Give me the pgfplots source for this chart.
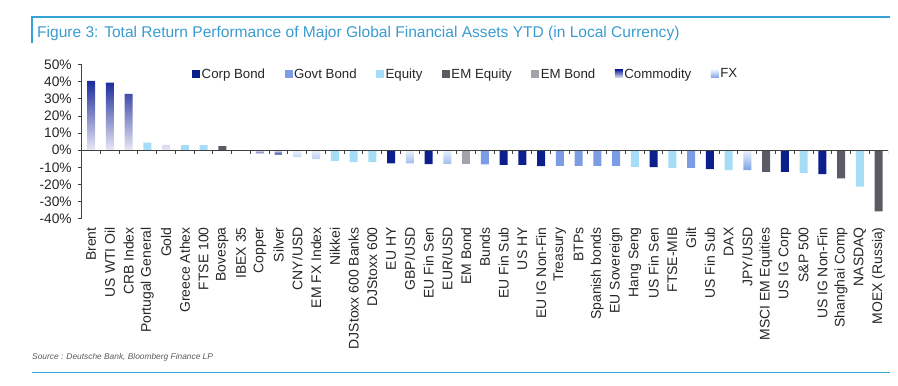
\documentclass[border=0pt]{standalone}
\usepackage{pgfplots}
\pgfplotsset{compat=1.18}
\usepackage{fontspec}
\setmainfont{Liberation Sans}
\definecolor{corp}{HTML}{0D1F8C}
\definecolor{govt}{HTML}{7C9DE3}
\definecolor{equity}{HTML}{A6DDF6}
\definecolor{emeq}{HTML}{5B5B66}
\definecolor{embond}{HTML}{A3A3AB}
\definecolor{commod}{HTML}{1B2A9A}
\definecolor{commodpale}{HTML}{E8E8F4}
\definecolor{fx}{HTML}{7CA2E8}
\definecolor{fxpale}{HTML}{EAF2FC}
\definecolor{frame}{HTML}{35A3D5}
\definecolor{titleblue}{HTML}{3A9BD0}
\pgfplotsset{sq/.style={legend image code/.code={\fill[##1] (0bp,-4bp) rectangle (8bp,4bp);}}}
\begin{document}
\begin{tikzpicture}
\useasboundingbox (0bp,0bp) rectangle (898bp,386bp);
\draw[frame, line width=2bp] (31.7bp,343bp) -- (31.7bp,369.3bp) -- (890bp,369.3bp);
\node[anchor=west, text=titleblue, font=\fontsize{15.6}{18}\selectfont, inner sep=0pt] at (37bp,353bp) {Figure 3: Total Return Performance of Major Global Financial Assets YTD (in Local Currency)};
\node[anchor=west, font=\fontsize{8.4}{10}\selectfont\itshape, text=black!65, inner sep=0pt] at (32bp,29bp) {Source : Deutsche Bank, Bloomberg Finance LP};
\draw[frame, line width=1.5bp] (31.7bp,13.7bp) -- (890bp,13.7bp);
\begin{axis}[
  at={(81.7bp,167.3bp)}, anchor=south west, scale only axis,
  width=806.3bp, height=154bp,
  xmin=-0.5, xmax=42.5, ymin=-40, ymax=50,
  ybar, bar width=8bp,
  axis y line=left, axis x line*=bottom,
  x axis line style={draw=none},
  y axis line style={-, draw=black!75, line width=1.1bp},
  xtick={0,...,42},
  xticklabels={Brent,US WTI Oil,CRB Index,Portugal General,Gold,Greece Athex,FTSE 100,Bovespa,IBEX 35,Copper,Silver,CNY/USD,EM FX Index,Nikkei,DJStoxx 600 Banks,DJStoxx 600,EU HY,GBP/USD,EU Fin Sen,EUR/USD,EM Bond,Bunds,EU Fin Sub,US HY,EU IG Non-Fin,Treasury,BTPs,Spanish bonds,EU Sovereign,Hang Seng,US Fin Sen,FTSE-MIB,Gilt,US Fin Sub,DAX,JPY/USD,MSCI EM Equities,US IG Corp,S\&P 500,US IG Non-Fin,Shanghai Comp,NASDAQ,MOEX (Russia)},
  xtick style={draw=none},
  xticklabel style={yshift=-4.5bp, rotate=90, anchor=east, font=\fontsize{14}{16}\selectfont, text=black!85, inner sep=0pt},
  ytick={-40,-30,...,50},
  yticklabel={\pgfmathprintnumber{\tick}\%},
  /pgf/number format/assume math mode=true,
  yticklabel style={xshift=-2.5bp, font=\fontsize{13.8}{16}\selectfont, text=black!85},
  ytick style={draw=black!75, line width=1bp},
  tick align=outside, major tick length=4bp,
  legend columns=-1,
  legend style={draw=none, fill=none, at={(0.476,1.0)}, anchor=north,
    font=\fontsize{13.3}{15}\selectfont, text=black!85,
    /tikz/every even column/.append style={column sep=18bp},
    nodes={inner sep=1.5bp}},
]
\addplot[sq, bar shift=0pt, draw=none, fill=corp] coordinates {(16,-7.7) (18,-8.1) (22,-8.5) (23,-8.5) (24,-9.3) (30,-9.9) (33,-11.0) (37,-12.6) (39,-14.0)};
\addlegendentry{Corp Bond}
\addplot[sq, bar shift=0pt, draw=none, fill=govt] coordinates {(21,-8.3) (25,-9.1) (26,-9.1) (27,-9.1) (28,-9.1) (32,-10.3)};
\addlegendentry{Govt Bond}
\addplot[sq, bar shift=0pt, draw=none, fill=equity] coordinates {(3,4.5) (5,3.0) (6,3.0) (8,-0.3) (13,-6.2) (14,-7.0) (15,-7.0) (29,-9.7) (31,-10.3) (34,-11.6) (38,-13.2) (41,-21.3)};
\addlegendentry{Equity}
\addplot[sq, bar shift=0pt, draw=none, fill=emeq] coordinates {(7,2.4) (36,-12.6) (40,-16.5) (42,-35.7)};
\addlegendentry{EM Equity}
\addplot[sq, bar shift=0pt, draw=none, fill=embond] coordinates {(20,-8.1)};
\addlegendentry{EM Bond}
\addplot[sq, bar shift=0pt, draw=none, top color=commod, bottom color=commodpale] coordinates {(0,40.5) (1,39.5) (2,33.0) (4,3.2)};
\addlegendentry{Commodity}
\addplot[sq, bar shift=0pt, draw=none, top color=fxpale, bottom color=fx] coordinates {(11,-4.0) (12,-5.2) (17,-7.7) (19,-7.9) (35,-11.6)};
\addlegendentry{FX}
\addplot[bar shift=0pt, draw=none, top color=commodpale, bottom color=commod, forget plot] coordinates {(9,-1.8) (10,-2.5)};
\draw[black!75, line width=1.3bp] (axis cs:-0.5,0) -- (axis cs:42.5,0);
\pgfplotsinvokeforeach{0,...,42}{\draw[black!75, line width=1bp] (axis cs:#1.5,0) -- ([yshift=-4bp]axis cs:#1.5,0);}
\end{axis}
\end{tikzpicture}
\end{document}
